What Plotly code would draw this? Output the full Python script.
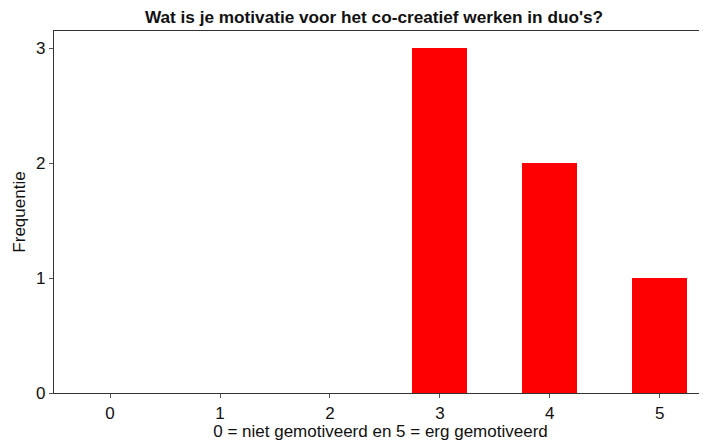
import plotly.graph_objects as go

# ── Data ─────────────────────────────────────────────────────────
scores = [0, 1, 2, 3, 4, 5]
frequencies = [0, 0, 0, 3, 2, 1]
y_ticks = [0, 1, 2, 3]

TITLE = "Wat is je motivatie voor het co-creatief werken in duo's?"
X_LABEL = "0 = niet gemotiveerd en 5 = erg gemotiveerd"
Y_LABEL = "Frequentie"

FONT = "Liberation Sans, Arial, sans-serif"

# page body has an 8px margin, so the figure is drawn slightly smaller
W, H = 699, 433

fig = go.Figure(go.Bar(
    x=scores,
    y=frequencies,
    width=0.5,
    marker=dict(color="#ff0000", line=dict(width=0)),
    hoverinfo="x+y",
))

fig.update_layout(
    width=W,
    height=H,
    paper_bgcolor="white",
    plot_bgcolor="white",
    font=dict(family=FONT, size=17, color="#111111"),
    margin=dict(l=46, r=0, t=23, b=48),
    showlegend=False,
    bargap=0,
    title=dict(
        text="<b>" + TITLE + "</b>",
        font=dict(size=17.2, color="#111111"),
        x=366 / W, xanchor="center", xref="container",
        y=1 - 8.5 / H, yref="container", yanchor="middle",
        pad=dict(t=0, b=0),
    ),
    xaxis=dict(
        range=[-0.51, 5.43],
        tickvals=scores,
        ticktext=[str(s) for s in scores],
        showgrid=False,
        zeroline=False,
        showline=True,
        linecolor="#333333",
        linewidth=1.2,
        mirror=True,
        ticks="outside",
        ticklen=4,
        tickcolor="#555555",
        title=dict(text=X_LABEL, standoff=2, font=dict(size=17)),
    ),
    yaxis=dict(
        range=[0, 3.15],
        tickvals=y_ticks,
        showgrid=False,
        zeroline=False,
        showline=True,
        linecolor="#333333",
        linewidth=1.2,
        ticks="outside",
        ticklen=4,
        tickcolor="#555555",
        title=dict(text=Y_LABEL, standoff=6, font=dict(size=17)),
    ),
)

fig.write_html("out.html")
